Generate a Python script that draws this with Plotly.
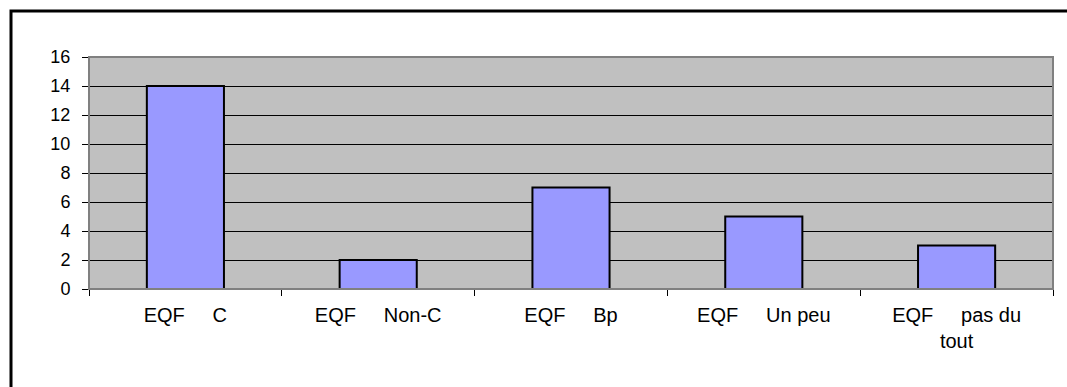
import plotly.graph_objects as go

NB = "\u00a0"
categories = [
    "EQF" + NB * 5 + "C",
    "EQF" + NB * 5 + "Non-C",
    "EQF" + NB * 5 + "Bp",
    "EQF" + NB * 5 + "Un peu",
    "EQF" + NB * 5 + "pas du<br>tout",
]
values = [14, 2, 7, 5, 3]
y_ticks = [0, 2, 4, 6, 8, 10, 12, 14, 16]

W, H = 1067, 387
ML, MR, MT, MB = 89, 14, 57, 98
pw = W - ML - MR
ph = H - MT - MB

fig = go.Figure(
    go.Bar(
        x=categories,
        y=values,
        width=0.40,
        marker=dict(color="#9999FF", line=dict(color="#000000", width=2)),
    )
)

def px_to_paper_x(p):
    return (p - ML) / pw

def px_to_paper_y(p):
    return (H - MB - p) / ph

fig.update_layout(
    width=W,
    height=H,
    margin=dict(l=ML, r=MR, t=MT, b=MB),
    paper_bgcolor="#FFFFFF",
    plot_bgcolor="#C0C0C0",
    showlegend=False,
    font=dict(family="Liberation Sans, Arial, sans-serif", color="#000000"),
    xaxis=dict(
        type="category",
        showgrid=False,
        showline=True,
        linecolor="#808080",
        linewidth=1,
        ticks="outside",
        tickson="boundaries",
        ticklen=6,
        tickcolor="#000000",
        tickfont=dict(size=20),
        ticklabelstandoff=8,
        tickangle=0,
    ),
    yaxis=dict(
        range=[0, 16],
        tickvals=y_ticks,
        showgrid=True,
        gridcolor="#000000",
        gridwidth=1,
        showline=True,
        linecolor="#808080",
        linewidth=1,
        ticks="outside",
        ticklen=6,
        tickcolor="#000000",
        tickfont=dict(size=18),
        ticklabelstandoff=8,
        zeroline=False,
    ),
    shapes=[
        dict(type="rect", xref="paper", yref="paper", x0=0, x1=1, y0=0, y1=1,
             line=dict(color="#808080", width=2), layer="above"),
        dict(type="rect", xref="paper", yref="paper",
             x0=px_to_paper_x(11), x1=px_to_paper_x(W + 20),
             y0=px_to_paper_y(H + 20), y1=px_to_paper_y(11),
             line=dict(color="#000000", width=3)),
    ],
    bargap=0.6,
)

fig.write_html("out.html")
